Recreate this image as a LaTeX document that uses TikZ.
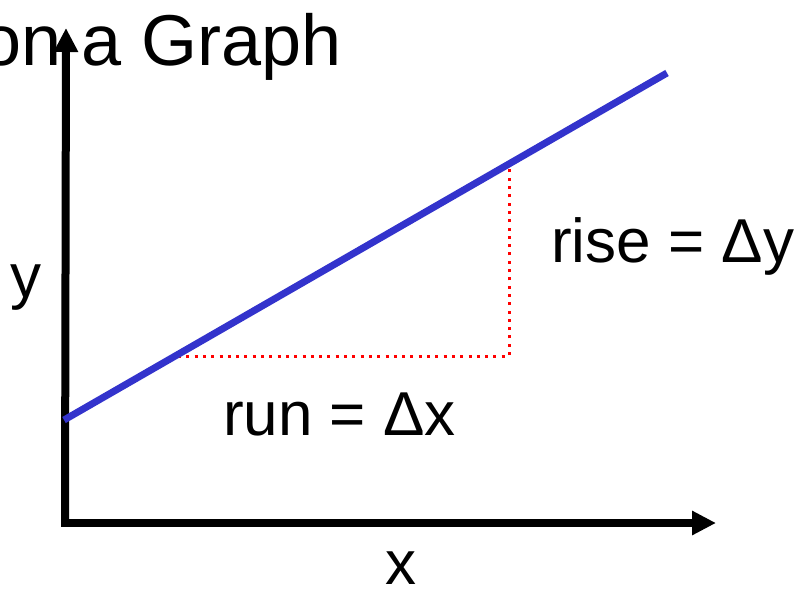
\documentclass[tikz,border=0pt]{standalone}
\usepackage{fontspec}
\setmainfont{Liberation Sans}
\usepackage{tikz}
\usetikzlibrary{arrows.meta,positioning}
\definecolor{lineblue}{RGB}{51,51,204}
\tikzset{
	axis/.style={
		line width=8pt, black,
		-{Triangle[length=24pt,width=23pt]}
	},
	slopeline/.style={line width=7pt, lineblue},
	helper/.style={
		line width=3pt, red,
		dash pattern=on 3pt off 5.3pt
	},
	label/.style={
		inner sep=0pt, anchor=base west,
		font=\fontsize{62pt}{70pt}\selectfont
	},
	title/.style={
		inner sep=0pt, anchor=base east,
		font=\fontsize{72pt}{80pt}\selectfont
	}
}

\begin{document}
\begin{tikzpicture}[x=1pt,y=-1pt]
				\useasboundingbox (0,0) rectangle (808,595);
				\clip (0,0) rectangle (808,595);
				% points
				\coordinate (origin) at (65,523);
				\coordinate (ytop) at (66,28);
				\coordinate (xend) at (716,523);
				\coordinate (lstart) at (64,420);
				\coordinate (lend) at (667,73);
				\coordinate (runstart) at (178,356);
				\coordinate (corner) at (509,356);
				\coordinate (riseend) at (509,166);
				\node[title] (head) at (342,65) {on a Graph};
				\draw[axis] ([yshift=4pt]origin) -- (ytop);
				\draw[axis] ([xshift=-4pt]origin) -- (xend);
				\draw[helper] (runstart) -- (corner) -- (riseend);
				\draw[slopeline] (lstart) -- (lend);
				\node[label] (rise) at (551,262) {rise = Δy};
				\node[label] (run) at (223,435) {run = Δx};
				\node[label] (ylab) at (10,297) {y};
				\node[label] (xlab) at (385,584) {x};
			\end{tikzpicture}
\end{document}
